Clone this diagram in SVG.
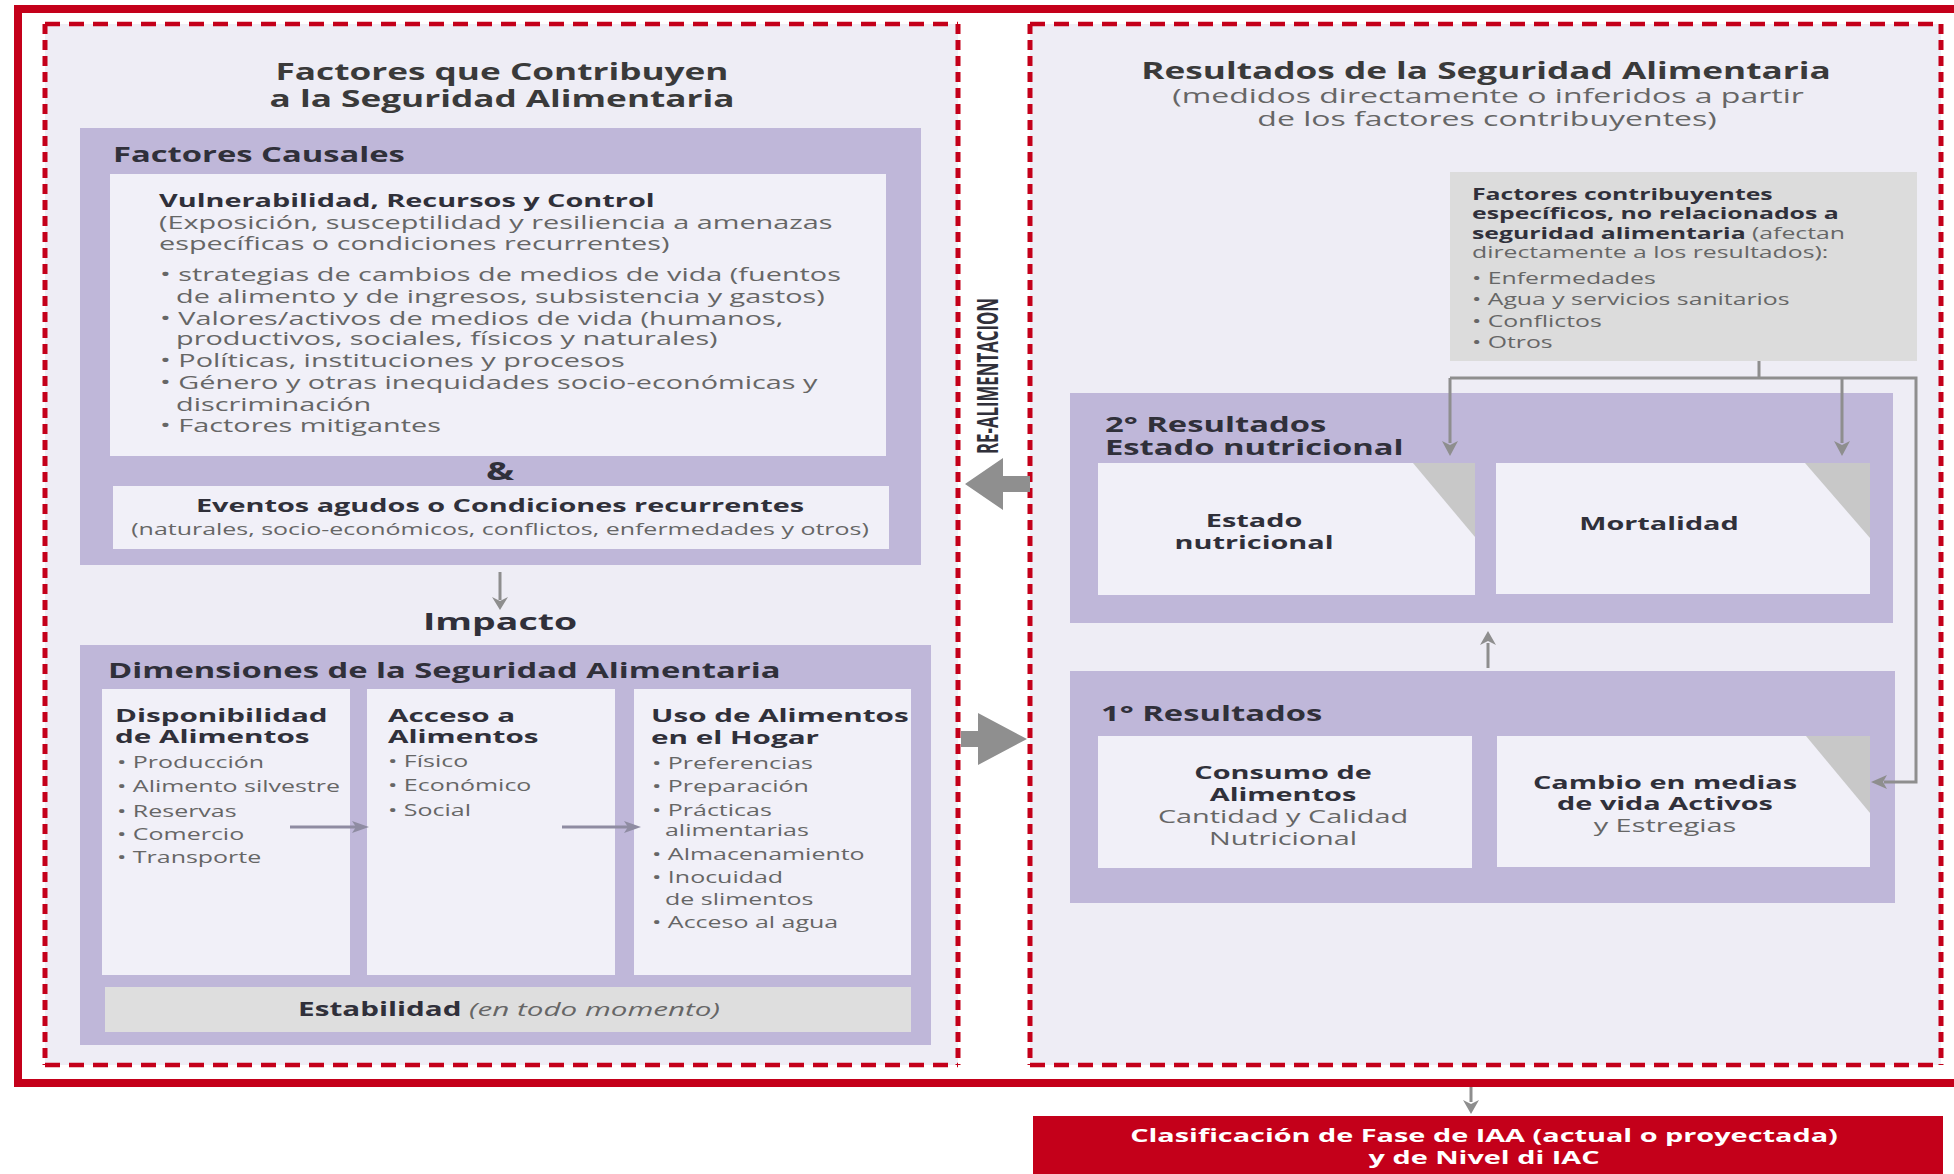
<svg xmlns="http://www.w3.org/2000/svg" width="1954" height="1174" viewBox="0 0 1954 1174">
<defs>
<style>
.t{font-family:"Open Sans","Noto Sans","Liberation Sans",sans-serif}
.b{font-weight:700;fill:#30303a}
.s{font-weight:700;fill:#3a3a3a}
.r{font-weight:400;fill:#666}
.w{font-weight:700;fill:#ffffff}
.m{text-anchor:middle}
.pur{fill:#BFB7D9}
.lt{fill:#F1F0F8}
.dash{fill:#EEEDF5}
.dh{stroke:#C4001A;stroke-width:4.5;stroke-dasharray:15 9;fill:none}
.dv{stroke:#C4001A;stroke-width:5;stroke-dasharray:10 6;fill:none}
.ln{stroke:#8E8E8E;stroke-width:3;fill:none}
.ah{fill:#8E8E8E}
.ln2{stroke:#8F8CA2;stroke-width:3;fill:none}
.ah2{fill:#8F8CA2}
.tri{fill:#C8C8C8}
</style>
</defs>
<rect x="0" y="0" width="1954" height="1174" fill="#ffffff"/>
<g id="frame">
<rect x="18" y="9" width="1945" height="1074" fill="#ffffff" stroke="#C4001A" stroke-width="8"/>
</g>
<g id="left-panel">
<rect class="dash" x="45" y="24" width="913" height="1041"/>
<path class="dh" d="M45,24 H958 M45,1065 H958"/>
<path class="dv" d="M45,24 V1065 M958,24 V1065"/>
<text class="t s m" font-size="23" transform="translate(502,80) scale(1.53,1)">Factores que Contribuyen</text>
<text class="t s m" font-size="23" transform="translate(502,107) scale(1.53,1)">a la Seguridad Alimentaria</text>
</g>
<g id="right-panel">
<rect class="dash" x="1030" y="24" width="911" height="1041"/>
<path class="dh" d="M1030,24 H1941 M1030,1065 H1941"/>
<path class="dv" d="M1030,24 V1065 M1941,24 V1065"/>
<text class="t s m" font-size="23" transform="translate(1486,79) scale(1.53,1)">Resultados de la Seguridad Alimentaria</text>
<text class="t r m" font-size="20" transform="translate(1488,103) scale(1.6,1)">(medidos directamente o inferidos a partir</text>
<text class="t r m" font-size="20" transform="translate(1487,126) scale(1.6,1)">de los factores contribuyentes)</text>
</g>
<g id="factores-causales">
<rect class="pur" x="80" y="128" width="841" height="437"/>
<text class="t b" font-size="21" transform="translate(113,162) scale(1.56,1)">Factores Causales</text>
<rect class="lt" x="110" y="174" width="776" height="282"/>
<text class="t b" font-size="18.5" transform="translate(159,207) scale(1.56,1)">Vulnerabilidad, Recursos y Control</text>
<text class="t r" font-size="17.8" transform="translate(159,229) scale(1.62,1)">(Exposición, susceptilidad y resiliencia a amenazas</text>
<text class="t r" font-size="17.8" transform="translate(159,250) scale(1.62,1)">específicas o condiciones recurrentes)</text>
<text class="t r" font-size="17.8" transform="translate(160,281) scale(1.62,1)">• strategias de cambios de medios de vida (fuentos</text>
<text class="t r" font-size="17.8" transform="translate(176,303) scale(1.62,1)">de alimento y de ingresos, subsistencia y gastos)</text>
<text class="t r" font-size="17.8" transform="translate(160,325) scale(1.62,1)">• Valores/activos de medios de vida (humanos,</text>
<text class="t r" font-size="17.8" transform="translate(176,345) scale(1.62,1)">productivos, sociales, físicos y naturales)</text>
<text class="t r" font-size="17.8" transform="translate(160,367) scale(1.62,1)">• Políticas, instituciones y procesos</text>
<text class="t r" font-size="17.8" transform="translate(160,389) scale(1.62,1)">• Género y otras inequidades socio-económicas y</text>
<text class="t r" font-size="17.8" transform="translate(176,411) scale(1.62,1)">discriminación</text>
<text class="t r" font-size="17.8" transform="translate(160,432) scale(1.62,1)">• Factores mitigantes</text>
<text class="t b m" font-size="25" transform="translate(500,480) scale(1.5,1)">&amp;</text>
<rect class="lt" x="113" y="486" width="776" height="63"/>
<text class="t b m" font-size="18.5" transform="translate(500,512) scale(1.56,1)">Eventos agudos o Condiciones recurrentes</text>
<text class="t r m" font-size="16" transform="translate(500,535) scale(1.56,1)">(naturales, socio-económicos, conflictos, enfermedades y otros)</text>
</g>
<g id="impacto">
<text class="t b m" font-size="24" transform="translate(500,630) scale(1.56,1)">Impacto</text>
</g>
<g id="dimensiones">
<rect class="pur" x="80" y="645" width="851" height="400"/>
<text class="t b" font-size="21" transform="translate(108,678) scale(1.56,1)">Dimensiones de la Seguridad Alimentaria</text>
<rect class="lt" x="102" y="689" width="248" height="286"/>
<rect class="lt" x="367" y="689" width="248" height="286"/>
<rect class="lt" x="634" y="689" width="277" height="286"/>
<text class="t b" font-size="18.3" transform="translate(115,722) scale(1.62,1)">Disponibilidad</text>
<text class="t b" font-size="18.3" transform="translate(115,743) scale(1.62,1)">de Alimentos</text>
<text class="t r" font-size="16" transform="translate(117,768) scale(1.56,1)">•  Producción</text>
<text class="t r" font-size="16" transform="translate(117,792) scale(1.56,1)">•  Alimento silvestre</text>
<text class="t r" font-size="16" transform="translate(117,817) scale(1.56,1)">•  Reservas</text>
<text class="t r" font-size="16" transform="translate(117,840) scale(1.56,1)">•  Comercio</text>
<text class="t r" font-size="16" transform="translate(117,863) scale(1.56,1)">•  Transporte</text>
<text class="t b" font-size="18.3" transform="translate(388,722) scale(1.62,1)">Acceso a</text>
<text class="t b" font-size="18.3" transform="translate(388,743) scale(1.62,1)">Alimentos</text>
<text class="t r" font-size="16" transform="translate(388,767) scale(1.56,1)">• Físico</text>
<text class="t r" font-size="16" transform="translate(388,791) scale(1.56,1)">• Económico</text>
<text class="t r" font-size="16" transform="translate(388,816) scale(1.56,1)">• Social</text>
<text class="t b" font-size="18.3" transform="translate(651,722) scale(1.62,1)">Uso de Alimentos</text>
<text class="t b" font-size="18.3" transform="translate(651,744) scale(1.62,1)">en el Hogar</text>
<text class="t r" font-size="16" transform="translate(652,769) scale(1.56,1)">• Preferencias</text>
<text class="t r" font-size="16" transform="translate(652,792) scale(1.56,1)">• Preparación</text>
<text class="t r" font-size="16" transform="translate(652,816) scale(1.56,1)">• Prácticas</text>
<text class="t r" font-size="16" transform="translate(665,836) scale(1.56,1)">alimentarias</text>
<text class="t r" font-size="16" transform="translate(652,860) scale(1.56,1)">• Almacenamiento</text>
<text class="t r" font-size="16" transform="translate(652,883) scale(1.56,1)">• Inocuidad</text>
<text class="t r" font-size="16" transform="translate(665,905) scale(1.56,1)">de slimentos</text>
<text class="t r" font-size="16" transform="translate(652,928) scale(1.56,1)">• Acceso al agua</text>
<rect x="105" y="987" width="806" height="45" fill="#DEDEDE"/>
<text class="t m" font-size="19" transform="translate(509,1016) scale(1.56,1)"><tspan class="b">Estabilidad</tspan><tspan class="r" font-style="italic"> (en todo momento)</tspan></text>
</g>
<g id="realimentacion">
<text class="t b m" font-size="29" textLength="156" lengthAdjust="spacingAndGlyphs" transform="translate(998,376) rotate(-90)">RE-ALIMENTACION</text>
</g>
<g id="factores-especificos">
<rect x="1450" y="172" width="467" height="189" fill="#DCDCDC"/>
<text class="t b" font-size="15.5" transform="translate(1472,200) scale(1.6,1)">Factores contribuyentes</text>
<text class="t b" font-size="15.5" transform="translate(1472,219) scale(1.6,1)">específicos, no relacionados a</text>
<text class="t" font-size="15.5" transform="translate(1472,239) scale(1.6,1)"><tspan class="b">seguridad alimentaria</tspan><tspan class="r"> (afectan</tspan></text>
<text class="t r" font-size="15.5" transform="translate(1472,258) scale(1.6,1)">directamente a los resultados):</text>
<text class="t r" font-size="15.5" transform="translate(1472,284) scale(1.6,1)">• Enfermedades</text>
<text class="t r" font-size="15.5" transform="translate(1472,305) scale(1.6,1)">• Agua y servicios sanitarios</text>
<text class="t r" font-size="15.5" transform="translate(1472,327) scale(1.6,1)">• Conflictos</text>
<text class="t r" font-size="15.5" transform="translate(1472,348) scale(1.6,1)">• Otros</text>
</g>
<g id="resultados-2">
<rect class="pur" x="1070" y="393" width="823" height="230"/>
<text class="t b" font-size="21" transform="translate(1105,432) scale(1.56,1)">2° Resultados</text>
<text class="t b" font-size="21" transform="translate(1105,455) scale(1.56,1)">Estado nutricional</text>
<rect class="lt" x="1098" y="463" width="377" height="132"/>
<polygon class="tri" points="1413,463 1475,463 1475,537"/>
<text class="t b m" font-size="18.5" transform="translate(1254,527) scale(1.56,1)">Estado</text>
<text class="t b m" font-size="18.5" transform="translate(1254,549) scale(1.56,1)">nutricional</text>
<rect class="lt" x="1496" y="463" width="374" height="131"/>
<polygon class="tri" points="1805,463 1870,463 1870,538"/>
<text class="t b m" font-size="18.5" transform="translate(1659,530) scale(1.56,1)">Mortalidad</text>
</g>
<g id="resultados-1">
<rect class="pur" x="1070" y="671" width="825" height="232"/>
<text class="t b" font-size="21" transform="translate(1101,721) scale(1.56,1)">1° Resultados</text>
<rect class="lt" x="1098" y="736" width="374" height="132"/>
<text class="t b m" font-size="18.5" transform="translate(1283,779) scale(1.56,1)">Consumo de</text>
<text class="t b m" font-size="18.5" transform="translate(1283,801) scale(1.56,1)">Alimentos</text>
<text class="t r m" font-size="18.5" transform="translate(1283,823) scale(1.56,1)">Cantidad y Calidad</text>
<text class="t r m" font-size="18.5" transform="translate(1283,845) scale(1.56,1)">Nutricional</text>
<rect class="lt" x="1497" y="736" width="373" height="131"/>
<polygon class="tri" points="1806,736 1870,736 1870,813"/>
<text class="t b m" font-size="18.5" transform="translate(1665,789) scale(1.56,1)">Cambio en medias</text>
<text class="t b m" font-size="18.5" transform="translate(1665,810) scale(1.56,1)">de vida Activos</text>
<text class="t r m" font-size="18.5" transform="translate(1665,832) scale(1.56,1)">y Estregias</text>
</g>
<g id="clasificacion">
<rect x="1033" y="1116" width="910" height="60" fill="#C4001A"/>
<text class="t w m" font-size="18.5" transform="translate(1484,1142) scale(1.56,1)">Clasificación de Fase de IAA (actual o proyectada)</text>
<text class="t w m" font-size="18.5" transform="translate(1484,1164) scale(1.56,1)">y de Nivel di IAC</text>
</g>
<g id="connectors">
<path class="ln" d="M500,572 V600"/>
<path class="ah" d="M492,597 L500,610 L508,597 L500,601 Z"/>
<path class="ln2" d="M290,827 H356"/>
<path class="ah2" d="M352,821 L369,827 L352,833 L356,827 Z"/>
<path class="ln2" d="M562,827 H628"/>
<path class="ah2" d="M624,821 L641,827 L624,833 L628,827 Z"/>
<path fill="#8F8F8F" d="M1030,476 H1003 V458 L965,484 L1003,510 V492 H1030 Z"/>
<path fill="#8F8F8F" d="M961,731 H978 V713 L1027,739 L978,765 V747 H961 Z"/>
<path class="ln" d="M1759,361 V378 M1450,378 H1916 V782 H1884 M1450,378 V443 M1842,378 V443"/>
<path class="ah" d="M1442,441 L1450,456 L1458,441 L1450,445 Z"/>
<path class="ah" d="M1834,441 L1842,456 L1850,441 L1842,445 Z"/>
<path class="ah" d="M1887,775 L1871,782 L1887,789 L1883,782 Z"/>
<path class="ln" d="M1488,668 V643"/>
<path class="ah" d="M1480,645 L1488,631 L1496,645 L1488,641 Z"/>
<path class="ln" d="M1471,1087 V1102"/>
<path class="ah" d="M1463,1100 L1471,1114 L1479,1100 L1471,1104 Z"/>
</g>
</svg>
